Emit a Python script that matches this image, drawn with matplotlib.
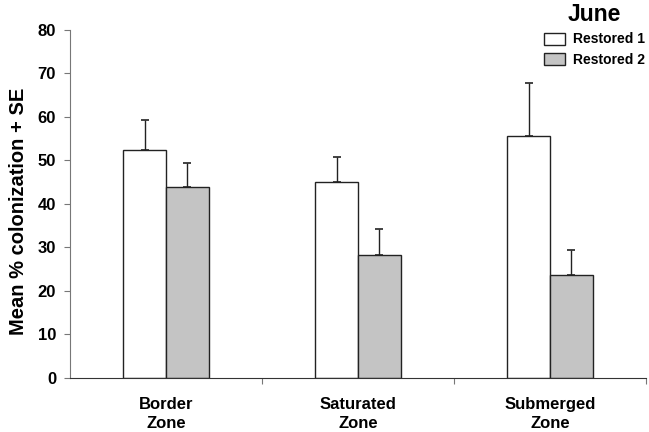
import numpy as np
import matplotlib.pyplot as plt

plt.rcParams["font.family"] = ["Liberation Sans", "DejaVu Sans"]
plt.rcParams["font.weight"] = "bold"

# -----------------------------
# DATI
# -----------------------------
zones = ["Border\nZone", "Saturated\nZone", "Submerged\nZone"]
restored1 = [52.4, 45.1, 55.7]
restored1_se = [6.9, 5.8, 12.0]
restored2 = [43.9, 28.2, 23.6]
restored2_se = [5.6, 6.0, 5.8]

# -----------------------------
# GRAFICO
# -----------------------------
fig = plt.figure(figsize=(6.49, 4.32), dpi=100)
ax = fig.add_axes([70 / 649, 0.125, 576 / 649, 0.8056])

x = np.arange(len(zones))
w = 0.222

ax.bar(x - w / 2, restored1, w, color="white", edgecolor="#222222", lw=1.0,
       label="Restored 1", zorder=2)
ax.bar(x + w / 2, restored2, w, color="#c4c4c4", edgecolor="#222222", lw=1.0,
       label="Restored 2", zorder=2)

ax.errorbar(x - w / 2, restored1, yerr=[np.zeros(3), restored1_se], fmt="none",
            ecolor="#222222", elinewidth=1.0, capsize=3, capthick=1.2, zorder=1)
ax.errorbar(x + w / 2, restored2, yerr=[np.zeros(3), restored2_se], fmt="none",
            ecolor="#222222", elinewidth=1.0, capsize=3, capthick=1.2, zorder=1)

ax.set_xlim(-0.5, 2.5)
ax.set_ylim(0, 80)
ax.set_yticks(np.arange(0, 81, 10))
ax.set_xticks(x)
ax.set_xticklabels(zones, fontsize=12, fontweight="bold", linespacing=1.3)
ax.set_xticks([0.5, 1.5, 2.5], minor=True)
ax.tick_params(axis="x", which="major", length=0, pad=14)
ax.tick_params(axis="x", which="minor", length=4, width=0.8, color="#777777")
ax.tick_params(axis="y", length=4, width=0.8, color="#777777", labelsize=12, pad=6)

for s in ["top", "right"]:
    ax.spines[s].set_visible(False)
ax.spines["left"].set_color("#777777")
ax.spines["bottom"].set_color("#333333")

ax.set_ylabel("Mean % colonization + SE", fontsize=14.5, fontweight="bold")
ax.yaxis.set_label_coords(-0.073, 0.48)

leg = ax.legend(loc="upper right", bbox_to_anchor=(1.015, 1.105), frameon=False,
                title="June", fontsize=10, title_fontsize=16.5,
                handlelength=1.5, handleheight=0.95, handletextpad=0.6,
                labelspacing=0.45, borderpad=0.2)
leg.get_title().set_fontweight("bold")

fig.savefig("out.png", dpi=100)
